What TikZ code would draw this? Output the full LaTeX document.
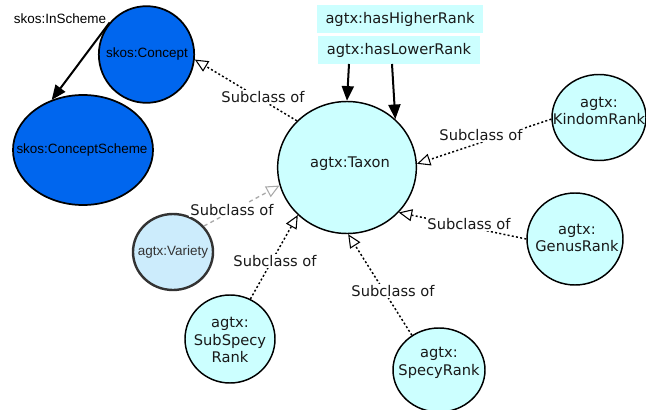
\documentclass[tikz,border=0pt]{standalone}
\usepackage{fontspec}
\setmainfont{DejaVu Sans}
\newfontfamily\arialf{Liberation Sans}
\usetikzlibrary{shapes.geometric,arrows.meta}
\definecolor{skosblue}{RGB}{0,102,238}
\definecolor{cyanfill}{RGB}{204,255,255}
\definecolor{varfill}{RGB}{204,236,252}
\definecolor{vargray}{RGB}{51,51,51}
\definecolor{dashgray}{RGB}{170,170,170}
\begin{document}
\begin{tikzpicture}[x=0.75pt,y=-0.75pt,
  cls/.style={ellipse, draw=black, line width=1.1pt, fill=cyanfill, inner sep=0pt},
  skosnode/.style={ellipse, draw=black, line width=1.3pt, fill=skosblue, inner sep=0pt},
  varnode/.style={ellipse, draw=vargray, line width=1.8pt, fill=varfill, inner sep=0pt},
  txt/.style={font=\fontsize{11}{13.2}\selectfont, align=center, inner sep=0pt, text=black!90},
  stxt/.style={font=\arialf\fontsize{10.1}{12}\selectfont, inner sep=0pt},
  lbl/.style={font=\fontsize{11}{13.2}\selectfont, fill=white, inner sep=1pt, text=black!90},
  rankbox/.style={fill=cyanfill, inner sep=0pt, font=\fontsize{11}{13.2}\selectfont, text=black!90},
  subcl/.style={line width=1.1pt, dash pattern=on 1.5pt off 1.7pt,
    -{Triangle[open,length=10pt,width=9pt,line width=0.8pt]}},
  subclvar/.style={line width=1pt, draw=dashgray, dash pattern=on 3pt off 2.5pt,
    -{Triangle[open,length=10pt,width=9pt,line width=0.8pt]}},
  relarrow/.style={line width=1.5pt, -{Triangle[length=11pt,width=9pt]}}
]
\useasboundingbox[fill=white] (0,0) rectangle (646,410);

% nodes (shapes)
\node[skosnode, minimum width=71.5pt, minimum height=72.5pt] (concept) at (146.5,54.5) {};
\node[skosnode, minimum width=105pt, minimum height=82.5pt] (scheme) at (83,150) {};
\node[cls, minimum width=104pt, minimum height=99pt] (taxon) at (347,167.5) {};
\node[cls, minimum width=70.5pt, minimum height=64.5pt] (kindom) at (599,117.5) {};
\node[cls, minimum width=72pt, minimum height=69pt] (genus) at (575,239) {};
\node[cls, minimum width=69pt, minimum height=63pt] (specy) at (439,370) {};
\node[cls, minimum width=67.5pt, minimum height=66pt] (subspecy) at (230,339) {};
\node[varnode, minimum width=60pt, minimum height=57pt] (variety) at (173,252) {};

% texts in shapes
\node[stxt] (concept-t) at (147,54) {skos:Concept};
\node[stxt] (scheme-t) at (82,150) {skos:ConceptScheme};
\node[stxt, text=vargray] (variety-t) at (173,252) {agtx:Variety};
\node[txt] (taxon-t) at (350,164) {agtx:Taxon};
\node[txt] (kindom-t) at (599,111) {agtx:\\KindomRank};
\node[txt] (genus-t) at (577,238) {agtx:\\GenusRank};
\node[txt] (specy-t) at (439,363) {agtx:\\SpecyRank};
\node[txt] (subspecy-t) at (230,340) {agtx:\\SubSpecy\\Rank};

% relation boxes
\node[rankbox, minimum width=124.5pt, minimum height=21pt] (hh) at (400,19) {agtx:hasHigherRank};
\node[rankbox, minimum width=121.5pt, minimum height=21pt] (hl) at (399,50) {agtx:hasLowerRank};
\coordinate (a1) at (349,64);
\coordinate (a2) at (392,64);

% skos:InScheme
\node[stxt] (inscheme) at (60,19) {skos:InScheme};
\draw[relarrow] (concept.139) -- (scheme.122);

% rank arrows
\draw[relarrow] (a1) -- (taxon.90);
\draw[relarrow] (a2) -- (taxon.45);

% subclass edges
\draw[subcl] (taxon.137) -- (concept.-6);
\draw[subcl] (kindom.182) -- (taxon.3);
\draw[subcl] (genus.180) -- (taxon.-41);
\draw[subcl] (specy.128) -- (taxon.-89);
\draw[subcl] (subspecy.63) -- (taxon.224);
\draw[subclvar] (variety.40) -- (taxon.195);

% labels
\node[lbl] (l1) at (263,97) {Subclass of};
\node[lbl] (l2) at (481,135) {Subclass of};
\node[lbl] (l3) at (469,224) {Subclass of};
\node[lbl] (l4) at (393,291) {Subclass of};
\node[lbl] (l5) at (275,261) {Subclass of};
\node[lbl] (l6) at (232,210) {Subclass of};
\end{tikzpicture}
\end{document}
